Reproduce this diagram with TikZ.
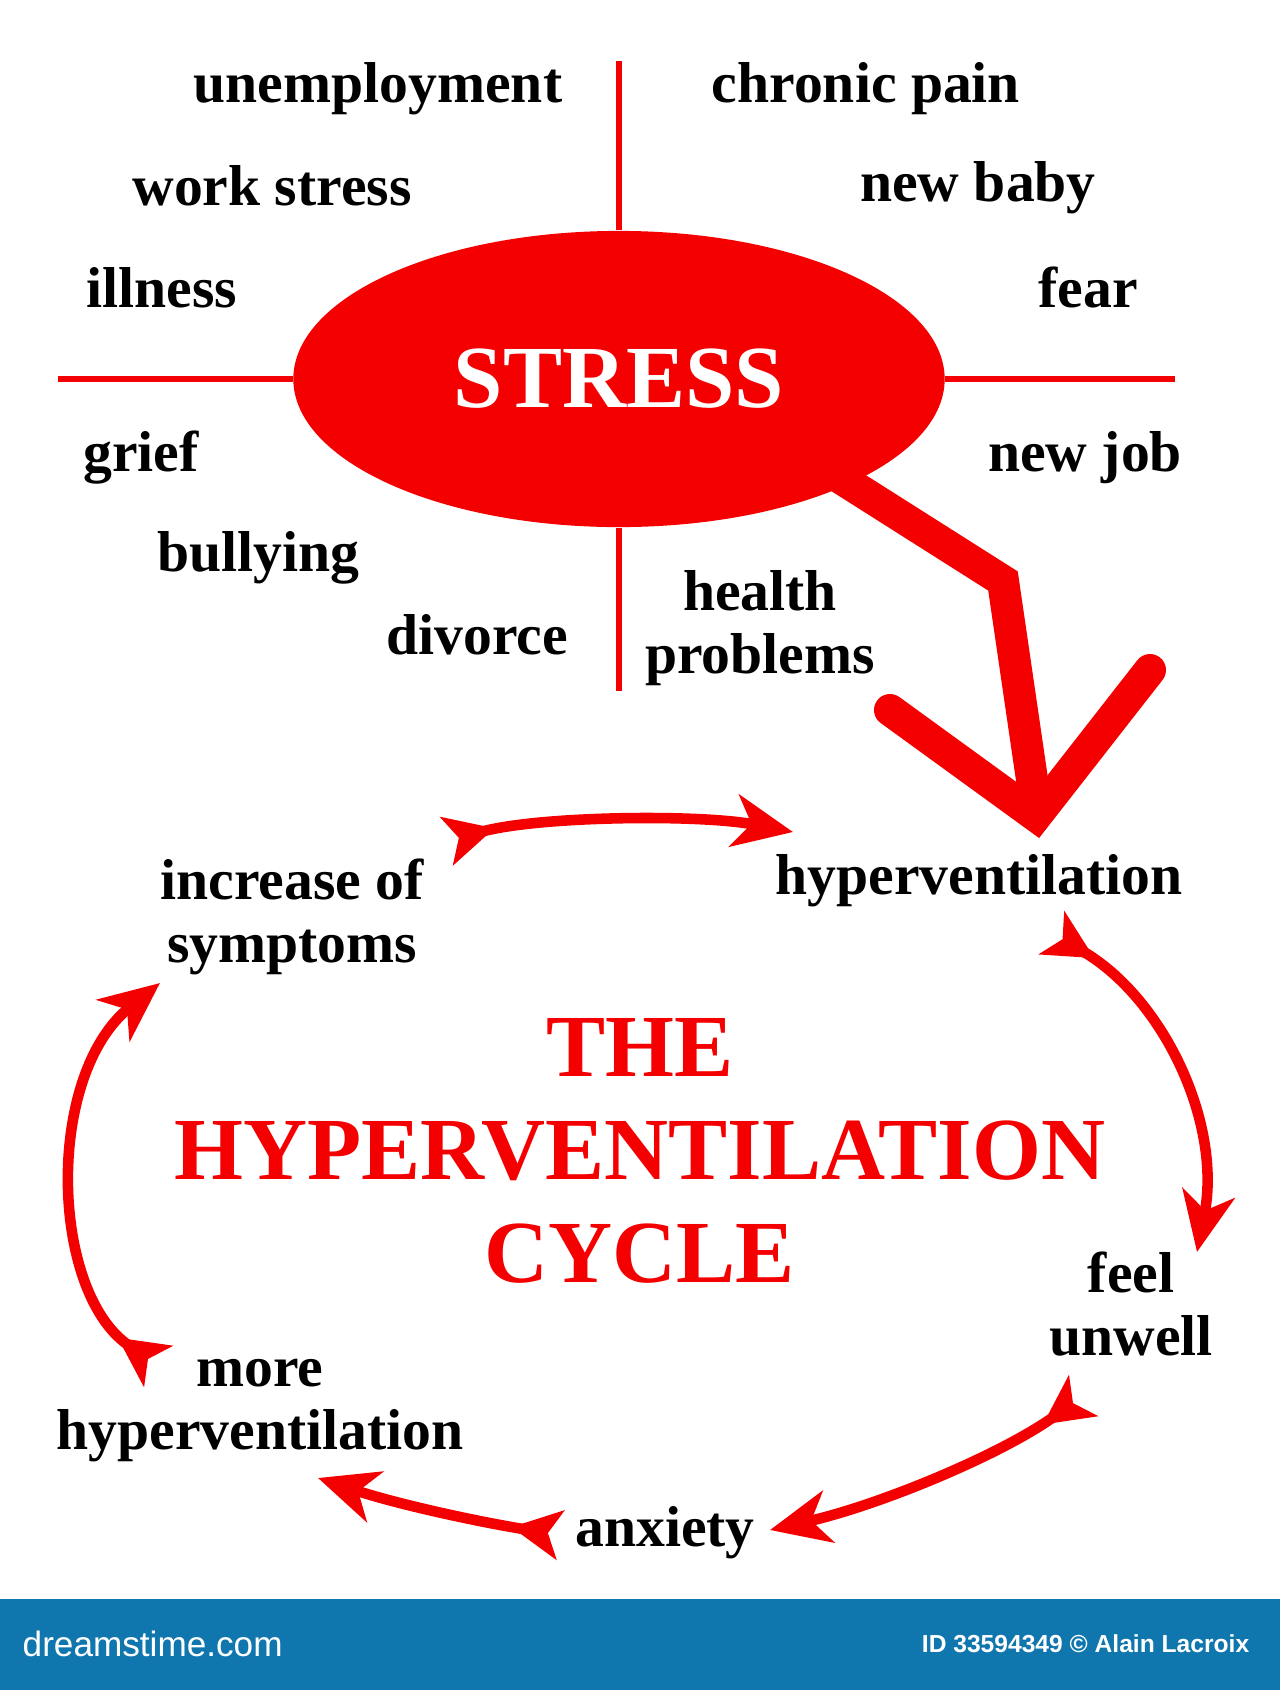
\documentclass[tikz,border=0pt]{standalone}
\usepackage{fontspec}
\setmainfont{Liberation Serif}
\setsansfont{Liberation Sans}
\usetikzlibrary{arrows.meta,shapes.geometric}
\definecolor{stressred}{RGB}{245,0,0}
\definecolor{barblue}{RGB}{16,118,174}
\tikzset{
	factor/.style={anchor=base,inner sep=0pt,align=center,font=\fontsize{16.4}{17.8}\selectfont\bfseries},
	crossline/.style={stressred,line width=1.8pt},
	bigarrow/.style={stressred,line width=9.1pt},
	cycarrow/.style={stressred,line width=3pt,{Stealth[reversed,length=14pt,width=14pt,inset=3.5pt]}-{Stealth[length=17pt,width=15pt,inset=5pt]}},
}
\begin{document}
\begin{tikzpicture}[x=0.01cm,y=-0.01cm]
	\useasboundingbox (0,0) rectangle (1280,1690);

	% stress and its causes
	\coordinate (stressexit) at (820,465);
	\coordinate (bend) at (1003,581);
	\coordinate (shaftend) at (1035,800);
	\coordinate (tip) at (1036,816);
	\coordinate (leftarm) at (890,710);
	\coordinate (rightarm) at (1150,670);
	\draw[bigarrow] (stressexit) -- (bend) -- (shaftend);
	\draw[bigarrow,line cap=round,line join=miter] (leftarm) -- (tip) -- (rightarm);

	\node[ellipse,fill=stressred,inner sep=0pt,minimum width=6.51cm,minimum height=2.96cm,
		text=white,font=\fontsize{25.2}{29}\selectfont\bfseries] (stress) at (619,379) {STRESS};
	\draw[crossline] (stress.north) -- ++(0,-169);
	\draw[crossline] (stress.south) -- ++(0,163);
	\draw[crossline] (stress.west) -- ++(-235,0);
	\draw[crossline] (stress.east) -- ++(230,0);

	\node[factor] (unemp) at (378,102) {unemployment};
	\node[factor] (work) at (272,205) {work stress};
	\node[factor] (ill) at (162,307) {illness};
	\node[factor] (grief) at (141,471) {grief};
	\node[factor] (bully) at (258,571) {bullying};
	\node[factor] (divorce) at (477,654) {divorce};
	\node[factor] (health) at (760,673) {health\\problems};
	\node[factor] (pain) at (866,102) {chronic pain};
	\node[factor] (baby) at (978,201) {new baby};
	\node[factor] (fear) at (1088,307) {fear};
	\node[factor] (job) at (1085,471) {new job};

	% the cycle
	\node[factor] (hyper) at (979,894) {hyperventilation};
	\node[factor] (incr) at (292,962) {increase of\\symptoms};
	\node[factor] (unwell) at (1131,1355) {feel\\unwell};
	\node[factor] (anx) at (665,1546) {anxiety};
	\node[factor] (more) at (260,1449) {more\\hyperventilation};
	\node[anchor=base,inner sep=0pt,align=center,text=stressred,
		font=\fontsize{25.2}{29.2}\selectfont\bfseries] (title) at (640,1282) {THE\\HYPERVENTILATION\\CYCLE};

	\coordinate (a1s) at (447,841);
	\coordinate (a1e) at (793,832);
	\coordinate (a2s) at (1052,933);
	\coordinate (a2e) at (1197,1252);
	\coordinate (a3s) at (1083,1396);
	\coordinate (a3e) at (770,1530);
	\coordinate (a4s) at (560,1535);
	\coordinate (a4e) at (318,1478);
	\coordinate (a5s) at (158,1366);
	\coordinate (a5e) at (160,983);
	\draw[cycarrow] (a1s) .. controls (540,816) and (700,814) .. (a1e);
	\draw[cycarrow] (a2s) .. controls (1165,1000) and (1222,1125) .. (a2e);
	\draw[cycarrow] (a3s) .. controls (1000,1455) and (880,1505) .. (a3e);
	\draw[cycarrow] (a4s) .. controls (480,1522) and (400,1505) .. (a4e);
	\draw[cycarrow] (a5s) .. controls (50,1290) and (45,1075) .. (a5e);

	% footer
	\fill[barblue] (0,1599) rectangle (1280,1690);
	\node[anchor=base west,inner sep=0pt,text=white,font=\fontsize{10}{12}\selectfont\sffamily] (logo) at (22,1656) {dreamstime.com};
	\node[anchor=base east,inner sep=0pt,text=white,font=\fontsize{7}{8}\selectfont\sffamily\bfseries] (credit) at (1250,1652) {ID 33594349 \textcopyright{} Alain Lacroix};
\end{tikzpicture}
\end{document}
